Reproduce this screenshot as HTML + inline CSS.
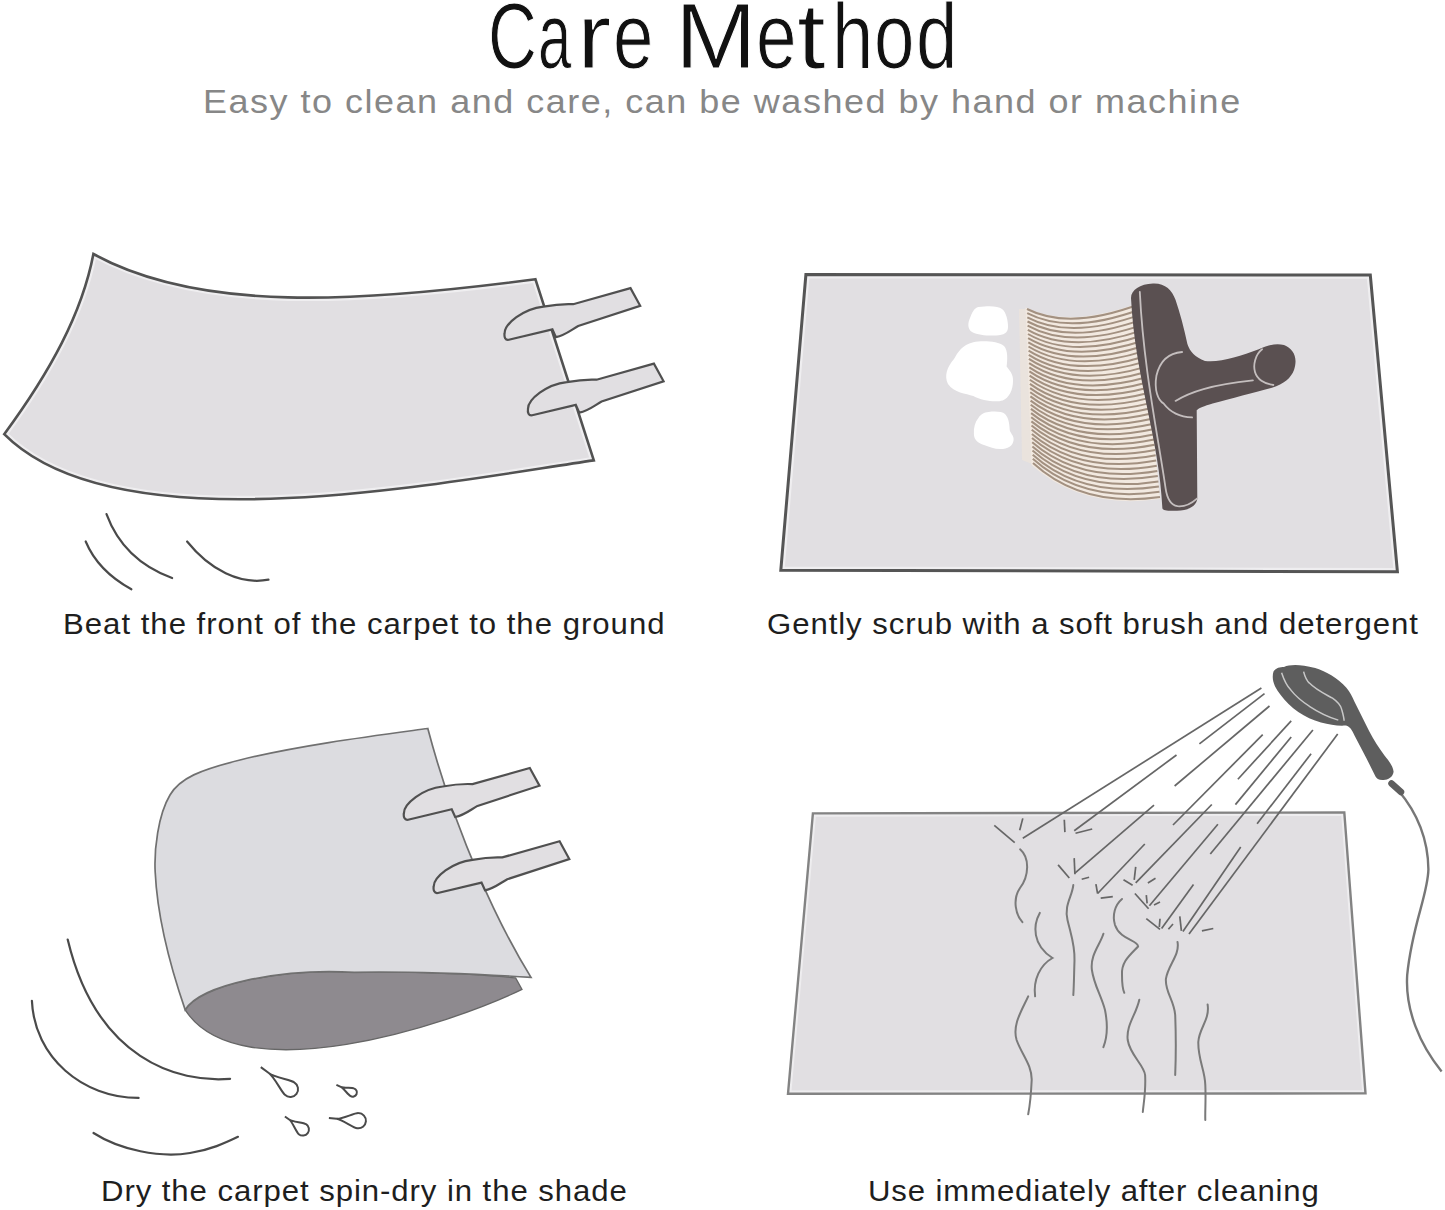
<!DOCTYPE html>
<html><head><meta charset="utf-8">
<style>
html,body{margin:0;padding:0;background:#fff;}
body{width:1445px;height:1210px;position:relative;overflow:hidden;font-family:"Liberation Sans",sans-serif;}
.t{position:absolute;white-space:nowrap;line-height:1;}
.tl{position:absolute;top:-10px;font-size:92px;line-height:1;color:#111;transform-origin:0 0;white-space:pre;-webkit-text-stroke:1.1px #fff;paint-order:normal;}
#sub{left:203px;top:84.5px;font-size:33px;color:#878787;letter-spacing:1.39px;transform-origin:0 0;transform:scaleX(1.09);}
.cap{font-size:29.4px;color:#1e1e1e;transform-origin:0 0;}
svg{position:absolute;left:0;top:0;}
</style></head><body>
<svg width="1445" height="1210" viewBox="0 0 1445 1210">
<g id="p1">
<clipPath id="cp1"><path d="M93.4,254 C200.6,312.7 358.1,302.6 535.4,279.2 L593.8,460.4 C436.8,483.2 117.0,547.5 4.2,434.2 C50,372 82,313.6 93.4,254 Z"/></clipPath>
<path d="M93.4,254 C200.6,312.7 358.1,302.6 535.4,279.2 L593.8,460.4 C436.8,483.2 117.0,547.5 4.2,434.2 C50,372 82,313.6 93.4,254 Z" fill="#e1dfe2"/>
<path d="M93.4,254 C200.6,312.7 358.1,302.6 535.4,279.2 L593.8,460.4 C436.8,483.2 117.0,547.5 4.2,434.2 C50,372 82,313.6 93.4,254 Z" fill="none" stroke="#efeef0" stroke-width="7" clip-path="url(#cp1)"/>
<path d="M93.4,254 C200.6,312.7 358.1,302.6 535.4,279.2 L593.8,460.4 C436.8,483.2 117.0,547.5 4.2,434.2 C50,372 82,313.6 93.4,254 Z" fill="none" stroke="#525252" stroke-width="2.6" stroke-linejoin="miter"/>
<path transform="translate(505.2,333.8)" d="M47.2,-4.4 L3.6,6 C0,6.8 -1.2,3 -0.6,-0.5 C-0.6,-10 18,-25 38.2,-27.2 C48,-29 60,-30 68,-29.6 L125.3,-45.7 L135,-28 L73,-7.8 C66,-4 60,1.5 50.7,3.3 Z" fill="#e1dfe2" stroke="#505050" stroke-width="2.2" stroke-linejoin="miter"/>
<path transform="translate(528.6,409.3)" d="M47.2,-4.4 L3.6,6 C0,6.8 -1.2,3 -0.6,-0.5 C-0.6,-10 18,-25 38.2,-27.2 C48,-29 60,-30 68,-29.6 L125.3,-45.7 L135,-28 L73,-7.8 C66,-4 60,1.5 50.7,3.3 Z" fill="#e1dfe2" stroke="#505050" stroke-width="2.2" stroke-linejoin="miter"/>
<g fill="none" stroke="#4a4a4a" stroke-width="2.2" stroke-linecap="round">
<path d="M106.5,514.1 Q123.5,560.2 172.1,578"/>
<path d="M85.7,541.5 Q97.9,570.8 131.4,589.3"/>
<path d="M187.1,541.5 C210,570 240,585 268.5,579.7"/>
</g></g>
<g id="p2">
<clipPath id="cp2"><path d="M805.9,274.6 L1370.3,275 L1397.4,571.7 L780.8,570.3 Z"/></clipPath>
<path d="M805.9,274.6 L1370.3,275 L1397.4,571.7 L780.8,570.3 Z" fill="#e1dfe2"/>
<path d="M805.9,274.6 L1370.3,275 L1397.4,571.7 L780.8,570.3 Z" fill="none" stroke="#efeef0" stroke-width="7.5" clip-path="url(#cp2)"/>
<path d="M805.9,274.6 L1370.3,275 L1397.4,571.7 L780.8,570.3 Z" fill="none" stroke="#555" stroke-width="3" stroke-linejoin="miter"/>
<g fill="#ffffff">
<path d="M978.4,307 C990,305.5 998,306 1002,309 C1006,312 1008,320 1008,327 C1008,333 1004,335 996,335.5 C988,336 978,335 972,332 C967,329 968,322 970,318 C972,313 974,308 978.4,307 Z"/>
<path d="M973.3,342.2 C982,340.5 998,341 1004,346 C1008,350 1007.5,360 1006.6,366.6 C1009,370 1013.5,374 1013,381 C1013,390 1009,398 1002.7,400.5 C996,402.5 982,401 973.3,396 C966,393.5 954,393 948,384 C944,376 947,367 954,359 C958,352 962,345 973.3,342.2 Z"/>
<path d="M988.6,412 C995,411 1002,411.5 1005,414 C1009,418 1009.5,425 1009.8,430.6 C1011,434 1014,436 1013.6,440 C1013,446 1008,449 1000.2,449.1 C994,449 990,447 984,445 C978,443 974,440 973.9,434 C973.5,428 975,422 978.4,418 C981,414 984,412.5 988.6,412 Z"/>
</g>
<path d="M1019,309 L1027,309 L1032,464 L1022,460 Z" fill="#ece3dc" opacity="0.8"/>
<path d="M1025.5,307.5 Q1069.5,329.0 1140.0,302.5 L1160.0,499.0 Q1082.5,510.0 1031.5,465.0 Z" fill="#f2e9e0"/>
<path d="M1027.0,309.0 Q1069.5,330.5 1140.0,304.0 M1027.2,313.2 Q1069.9,335.3 1140.5,309.2 M1027.3,317.3 Q1070.2,340.1 1141.1,314.4 M1027.5,321.5 Q1070.6,344.9 1141.6,319.6 M1027.6,325.6 Q1070.9,349.7 1142.2,324.9 M1027.8,329.8 Q1071.3,354.5 1142.7,330.1 M1028.0,334.0 Q1071.6,359.3 1143.2,335.3 M1028.1,338.1 Q1072.0,364.1 1143.8,340.5 M1028.3,342.3 Q1072.3,368.9 1144.3,345.7 M1028.5,346.5 Q1072.7,373.7 1144.9,350.9 M1028.6,350.6 Q1073.0,378.5 1145.4,356.2 M1028.8,354.8 Q1073.4,383.3 1145.9,361.4 M1028.9,358.9 Q1073.7,388.1 1146.5,366.6 M1029.1,363.1 Q1074.1,392.9 1147.0,371.8 M1029.3,367.3 Q1074.4,397.7 1147.6,377.0 M1029.4,371.4 Q1074.8,402.5 1148.1,382.2 M1029.6,375.6 Q1075.1,407.3 1148.6,387.5 M1029.8,379.8 Q1075.5,412.1 1149.2,392.7 M1029.9,383.9 Q1075.8,416.9 1149.7,397.9 M1030.1,388.1 Q1076.2,421.6 1150.3,403.1 M1030.2,392.2 Q1076.5,426.4 1150.8,408.3 M1030.4,396.4 Q1076.9,431.2 1151.4,413.5 M1030.6,400.6 Q1077.2,436.0 1151.9,418.8 M1030.7,404.7 Q1077.6,440.8 1152.4,424.0 M1030.9,408.9 Q1077.9,445.6 1153.0,429.2 M1031.1,413.1 Q1078.3,450.4 1153.5,434.4 M1031.2,417.2 Q1078.6,455.2 1154.1,439.6 M1031.4,421.4 Q1079.0,460.0 1154.6,444.8 M1031.5,425.5 Q1079.3,464.8 1155.1,450.1 M1031.7,429.7 Q1079.7,469.6 1155.7,455.3 M1031.9,433.9 Q1080.0,474.4 1156.2,460.5 M1032.0,438.0 Q1080.4,479.2 1156.8,465.7 M1032.2,442.2 Q1080.7,484.0 1157.3,470.9 M1032.4,446.4 Q1081.1,488.8 1157.8,476.1 M1032.5,450.5 Q1081.4,493.6 1158.4,481.4 M1032.7,454.7 Q1081.8,498.4 1158.9,486.6 M1032.8,458.8 Q1082.1,503.2 1159.5,491.8 M1033.0,463.0 Q1082.5,508.0 1160.0,497.0" fill="none" stroke="#a39181" stroke-width="2.0"/>
<path d="M1153,283.5 C1165,283 1172,290 1175.5,299.8 C1180,313 1184,328 1187.4,344 C1190,352 1195,357 1205,361 C1220,363 1240,356 1258.8,349.3 C1268,345 1276,343 1284,345 C1294,349 1298,358 1294,370 C1291,378 1284,384 1272,387.7 C1255,392 1230,399 1212.6,403.5 C1204,406 1199,408 1196.7,410.2 L1197.3,498.3 C1197,506 1188,511 1176,510.7 C1168,511 1163,510.5 1162.4,508.5 C1159.2,438.1 1135.1,378.5 1131,298 C1131,290 1140,284 1153,283.5 Z" fill="#5a5051"/>
<g fill="none" stroke="#c4bebe" stroke-width="1.8" stroke-linecap="round">
<path d="M1139.8,291.9 C1143.5,367.6 1157.4,432.6 1165.6,488.3 C1167,498 1171,505 1177.5,506.2 C1185,507 1192,503 1197.3,498.3"/>
<path d="M1182.1,352 C1170,353 1160,360 1156.4,375.8 C1154,390 1158,400 1163.6,403.5 C1170,412 1180,417 1192.1,417.4"/>
<path d="M1175.5,400.9 C1190,392 1210,385 1252.9,380.4"/>
<path d="M1262.1,349.3 C1255,355 1253,365 1255,372 C1257,379 1264,384 1273.4,385"/>
</g></g>
<g id="p3">
<path d="M185.2,1009.9 C238.8,1093.6 449.4,1024.8 522,989.4 L515.6,977.9 C480,974 400,971 354.3,972.3 C280,968 200,985 185.2,1009.9 Z" fill="#8e8a8f" stroke="#666" stroke-width="1.3"/>
<path d="M427.8,728.5 C380,735 300,745 240,760 C200,770 180,778 170,795 C158,815 154,850 155.2,872.3 C157,910 168,960 185.2,1009.9 C200,985 280,968 354.3,972.3 C400,971 480,974 531,977.4 C498.5,924.9 455.7,834 427.8,728.5 Z" fill="#dcdce0" stroke="#707070" stroke-width="1.7" stroke-linejoin="miter"/>
<path transform="translate(404.5,813.7)" d="M47.2,-4.4 L3.6,6 C0,6.8 -1.2,3 -0.6,-0.5 C-0.6,-10 18,-25 38.2,-27.2 C48,-29 60,-30 68,-29.6 L125.3,-45.7 L135,-28 L73,-7.8 C66,-4 60,1.5 50.7,3.3 Z" fill="#e1dfe2" stroke="#505050" stroke-width="2.2" stroke-linejoin="miter"/>
<path transform="translate(434.3,887)" d="M47.2,-4.4 L3.6,6 C0,6.8 -1.2,3 -0.6,-0.5 C-0.6,-10 18,-25 38.2,-27.2 C48,-29 60,-30 68,-29.6 L125.3,-45.7 L135,-28 L73,-7.8 C66,-4 60,1.5 50.7,3.3 Z" fill="#e1dfe2" stroke="#505050" stroke-width="2.2" stroke-linejoin="miter"/>
<g fill="none" stroke="#4a4a4a" stroke-width="2.2" stroke-linecap="round">
<path d="M67.7,939.5 C96.5,1059.8 178.2,1083.1 230.1,1078.8"/>
<path d="M31.9,1000.8 C34.3,1057 82.5,1098 138.6,1097.9"/>
<path d="M93.5,1133 C120,1150 160,1158 190,1153 C210,1150 225,1143 238,1136.8"/>
</g>
<g fill="none" stroke="#4a4a4a" stroke-width="2" stroke-linejoin="round">
<path d="M260.8,1067.1 L269.1,1073.3 C274.6,1077.4 281.8,1092.5 284.9,1094.8 A7.8,7.8 0 1 0 294.2,1082.4 C291.1,1080.0 274.6,1077.4 269.1,1073.3"/>
<path d="M336.4,1084.9 L340.8,1086.9 C343.6,1088.3 348.4,1095.1 350.3,1095.9 A4.2,4.2 0 1 0 353.8,1088.4 C351.9,1087.5 343.6,1088.3 340.8,1086.9"/>
<path d="M284.9,1116.5 L289.5,1119.8 C292.5,1122.0 296.3,1132.4 298.8,1134.2 A6.2,6.2 0 1 0 306.1,1124.2 C303.6,1122.4 292.5,1122.0 289.5,1119.8"/>
<path d="M328.9,1118.1 L336.7,1118.8 C341.9,1119.3 353.3,1127.9 357.1,1128.2 A7.6,7.6 0 1 0 358.4,1113.1 C354.6,1112.8 341.9,1119.3 336.7,1118.8"/>
</g></g>
<g id="p4">
<clipPath id="cp4"><path d="M812.9,813.4 L1344.3,812.5 L1365.5,1093.4 L788,1093.7 Z"/></clipPath>
<path d="M812.9,813.4 L1344.3,812.5 L1365.5,1093.4 L788,1093.7 Z" fill="#e1dfe2"/>
<path d="M812.9,813.4 L1344.3,812.5 L1365.5,1093.4 L788,1093.7 Z" fill="none" stroke="#eeedef" stroke-width="6.5" clip-path="url(#cp4)"/>
<path d="M812.9,813.4 L1344.3,812.5 L1365.5,1093.4 L788,1093.7 Z" fill="none" stroke="#838383" stroke-width="2.4" stroke-linejoin="miter"/>
<g fill="none" stroke="#7a7a7a" stroke-width="2" stroke-linecap="round">
<path d="M1020.1,849.3 C1030,858 1029,876 1020,888 C1012,900 1016,915 1022.4,922.2"/>
<path d="M1039.8,912.9 C1033,925 1032,945 1052.5,958 C1040,965 1033,980 1035.1,996.3"/>
<path d="M1028.2,996.3 C1022,1010 1012,1025 1016.6,1040 C1022,1055 1032,1065 1031.7,1080 C1031,1095 1030,1105 1028.2,1114.3"/>
<path d="M1073.3,885.1 C1072,897 1064,905 1067.5,920 C1071,935 1075,945 1074.5,960.4 C1074,975 1074,985 1073.3,995.1"/>
<path d="M1103.4,933.8 C1100,945 1090,955 1091.9,970 C1094,985 1101,995 1105,1010 C1108,1025 1107,1038 1103.4,1047.2"/>
<path d="M1122,899 C1115,905 1112,915 1115,925 C1120,940 1138,940 1138.1,946.5 C1130,955 1121,962 1122,975 C1122,985 1123,990 1124.3,992.8"/>
<path d="M1139.3,999.7 C1136,1015 1126,1025 1127.7,1040 C1130,1055 1144,1065 1145.1,1075 C1146,1090 1144,1100 1142.8,1112"/>
<path d="M1177.5,941.9 C1180,955 1168,965 1165.9,978.9 C1165,992 1174,1000 1175.2,1015 C1176,1035 1176,1055 1175.2,1075"/>
<path d="M1207.6,1004.4 C1210,1020 1199,1028 1198.3,1042 C1198,1060 1205,1070 1205.3,1085 C1206,1100 1205,1110 1205.3,1120"/>
</g>
<g fill="none" stroke="#666" stroke-width="1.7" stroke-linecap="butt">
<line x1="1261.4" y1="688" x2="1022.8" y2="838.3"/>
<line x1="1264.5" y1="693.6" x2="1199.4" y2="743.9"/>
<line x1="1269.5" y1="706" x2="1174.6" y2="786"/>
<line x1="1291.2" y1="720.9" x2="1237.9" y2="779.2"/>
<line x1="1262.7" y1="734.6" x2="1173" y2="825"/>
<line x1="1291.2" y1="737" x2="1235.4" y2="804.6"/>
<line x1="1176.5" y1="755" x2="1074.2" y2="830.8"/>
<line x1="1154" y1="805.2" x2="1074.9" y2="873.2"/>
<line x1="1211.8" y1="804.5" x2="1135.7" y2="882.9"/>
<line x1="1217.9" y1="824.3" x2="1149.4" y2="905.7"/>
<line x1="1312.9" y1="730" x2="1210.3" y2="854"/>
<line x1="1337.7" y1="734" x2="1189" y2="933.9"/>
<line x1="1311.1" y1="753.7" x2="1257.1" y2="823.8"/>
<line x1="1240.7" y1="847.1" x2="1182.9" y2="931.6"/>
<line x1="1193.5" y1="884.4" x2="1161.6" y2="928.5"/>
<line x1="1144.8" y1="844" x2="1097.6" y2="893.5"/>
<line x1="994.3" y1="825.3" x2="1014.7" y2="842.6"/>
<line x1="1022.8" y1="818.4" x2="1019.7" y2="830.2"/>
<line x1="1064.3" y1="819.7" x2="1064.9" y2="832.1"/>
<line x1="1075.5" y1="833.3" x2="1092.2" y2="829"/>
<line x1="1058.1" y1="864.9" x2="1069.3" y2="878"/>
<line x1="1074.2" y1="858.1" x2="1074.9" y2="874.2"/>
<line x1="1081.7" y1="879.2" x2="1089.1" y2="877.3"/>
<line x1="1095.9" y1="884.2" x2="1097.6" y2="893.5"/>
<line x1="1100.7" y1="898.1" x2="1112.8" y2="896.6"/>
<line x1="1123.5" y1="879.8" x2="1132.6" y2="885.2"/>
<line x1="1135.7" y1="866.9" x2="1134.2" y2="879.8"/>
<line x1="1147.9" y1="882.9" x2="1155.5" y2="878.3"/>
<line x1="1134.9" y1="893.5" x2="1148.6" y2="908.8"/>
<line x1="1146.3" y1="895.1" x2="1147.1" y2="903.4"/>
<line x1="1154" y1="905" x2="1160" y2="901.9"/>
<line x1="1146.3" y1="918.7" x2="1160" y2="929.3"/>
<line x1="1160" y1="918.7" x2="1159.3" y2="927"/>
<line x1="1168.4" y1="929.3" x2="1173" y2="924"/>
<line x1="1179.8" y1="916.4" x2="1181.4" y2="930.8"/>
<line x1="1201.9" y1="930.8" x2="1213.3" y2="928.5"/>
</g>
<path d="M1398,790 C1415,810 1428,835 1428.4,869.3 C1428,895 1412,925 1407.2,975 C1405,1010 1420,1045 1441.6,1071.4" fill="none" stroke="#777" stroke-width="2.4"/>
<path d="M1391.5,783.5 L1401,792" stroke="#5e5e5e" stroke-width="6.5" stroke-linecap="round"/>
<path d="M1273.5,671.6 C1276,667.5 1280,667 1284,666.9 C1290,664.5 1300,664 1315.2,668.1 C1325,671 1338,678 1346.4,687.8 C1350,692 1352,696 1354.5,701.8 L1369.1,730.9 C1374,740 1379,748 1384.5,755.5 C1389,761 1393,766 1393.6,771.8 C1393,777 1388,780 1383.6,780 C1379,780.5 1376.5,778 1375.5,776.4 L1366.4,758.2 L1354.5,735.5 C1352,730 1350,726.5 1346,725.5 C1338,726 1330,725 1321,722.5 C1305,718 1290,708 1280.5,694.7 C1275,688 1271,680 1273.5,671.6 Z" fill="#5e5e5e"/>
<g fill="none" stroke="#c8c8c8" stroke-width="1.5">
<path d="M1281.6,672.7 C1284,680 1287,686 1290.9,690.1 C1297,698 1303,702 1309.4,706.3 C1318,712 1328,717 1338.3,720.1"/>
<path d="M1303.6,671.6 C1305,677 1307,681 1309.4,683.1 C1316,690 1325,694 1332.5,698.2 C1338,702 1341,706 1341.8,709.7 C1343,714 1344,718 1344.1,720.7"/>
</g></g>
</svg>
<div class="tl" style="left:487.6px;transform:scaleX(0.735)">C</div>
<div class="tl" style="left:538.0px;transform:scaleX(0.650)">a</div>
<div class="tl" style="left:577.3px;transform:scaleX(1.120)">r</div>
<div class="tl" style="left:613.0px;transform:scaleX(0.790)">e</div>
<div class="tl" style="left:675.0px;transform:scaleX(1.065)">M</div>
<div class="tl" style="left:755.8px;transform:scaleX(0.793)">e</div>
<div class="tl" style="left:797.4px;transform:scaleX(1.120)">t</div>
<div class="tl" style="left:831.5px;transform:scaleX(0.808)">h</div>
<div class="tl" style="left:873.8px;transform:scaleX(0.790)">o</div>
<div class="tl" style="left:916.1px;transform:scaleX(0.810)">d</div>
<div class="t" id="sub">Easy to clean and care, can be washed by hand or machine</div>
<div class="t cap" style="left:62.5px;top:609px;letter-spacing:0.93px;transform:scaleX(1.06)">Beat the front of the carpet to the ground</div>
<div class="t cap" style="left:766.5px;top:609px;letter-spacing:0.87px;transform:scaleX(1.06)">Gently scrub with a soft brush and detergent</div>
<div class="t cap" style="left:101px;top:1175.5px;letter-spacing:0.87px;transform:scaleX(1.06)">Dry the carpet spin-dry in the shade</div>
<div class="t cap" style="left:868px;top:1175.5px;letter-spacing:0.81px;transform:scaleX(1.06)">Use immediately after cleaning</div>
</body></html>
